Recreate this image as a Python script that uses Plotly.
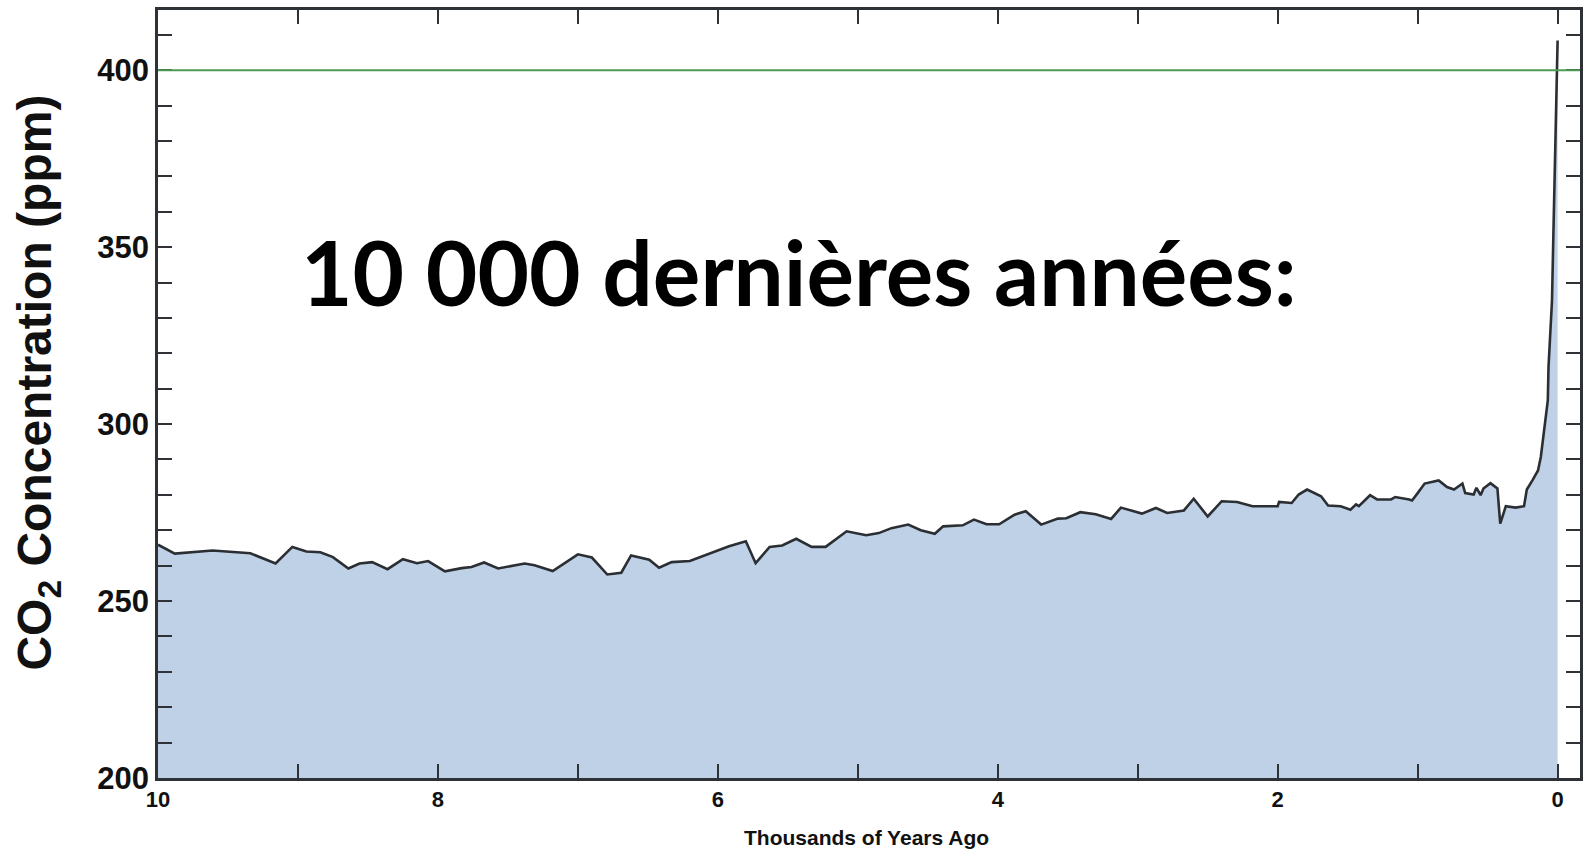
import plotly.graph_objects as go

# Data
years_ago_kyr = [10.00, 9.88, 9.61, 9.39, 9.34, 9.16, 9.04, 8.94, 8.84, 8.75, 8.64, 8.56, 8.47, 8.36,
                 8.25, 8.15, 8.07, 7.95, 7.83, 7.76, 7.67, 7.57, 7.48, 7.38, 7.31, 7.18, 7.00, 6.90,
                 6.79, 6.69, 6.62, 6.49, 6.42, 6.33, 6.20, 6.13, 6.04, 5.92, 5.80, 5.73, 5.63, 5.54,
                 5.44, 5.33, 5.23, 5.18, 5.08, 4.94, 4.85, 4.76, 4.64, 4.55, 4.45, 4.39, 4.25, 4.17,
                 4.08, 3.99, 3.88, 3.80, 3.69, 3.57, 3.51, 3.41, 3.30, 3.19, 3.12, 2.97, 2.87, 2.79,
                 2.67, 2.60, 2.50, 2.40, 2.29, 2.18, 2.00, 1.99, 1.90, 1.85, 1.79, 1.69, 1.64, 1.55,
                 1.48, 1.44, 1.42, 1.34, 1.29, 1.19, 1.16, 1.06, 1.04, 1.00, 0.95, 0.85, 0.79, 0.74,
                 0.68, 0.66, 0.60, 0.58, 0.55, 0.53, 0.48, 0.43, 0.41, 0.37, 0.30, 0.24, 0.22, 0.18,
                 0.14, 0.12, 0.10, 0.07, 0.065, 0.04, 0.03, 0.017, 0.006, 0.0]
co2_ppm = [265.9, 263.4, 264.3, 263.8, 263.5, 260.6, 265.3, 264.0, 263.8, 262.4, 259.2, 260.6, 261.0, 259.0,
           261.8, 260.7, 261.3, 258.4, 259.3, 259.6, 260.9, 259.2, 259.9, 260.6, 260.1, 258.5, 263.2, 262.3,
           257.5, 258.0, 262.9, 261.7, 259.4, 261.0, 261.3, 262.4, 263.6, 265.5, 266.9, 260.7, 265.3, 265.7,
           267.6, 265.3, 265.3, 266.7, 269.7, 268.6, 269.2, 270.6, 271.6, 270.0, 269.0, 271.1, 271.4, 273.0,
           271.7, 271.7, 274.4, 275.4, 271.6, 273.3, 273.4, 275.1, 274.5, 273.2, 276.4, 274.7, 276.3, 274.9,
           275.6, 278.9, 273.9, 278.2, 278.0, 276.8, 276.8, 278.0, 277.7, 280.1, 281.5, 279.6, 277.0, 276.8,
           275.8, 277.3, 276.8, 279.9, 278.7, 278.7, 279.4, 278.7, 278.4, 280.5, 283.2, 284.1, 282.2, 281.5,
           283.2, 280.5, 280.1, 282.0, 279.9, 281.8, 283.3, 281.8, 271.9, 276.8, 276.4, 276.8, 281.5, 284.1,
           286.9, 290.7, 297.3, 306.7, 316.1, 334.9, 353.9, 377.3, 400.8, 408.4]
reference_ppm = 400
x_major_ticks = [0, 2, 4, 6, 8, 10]
x_major_labels = ["<b>0</b>", "<b>2</b>", "<b>4</b>", "<b>6</b>", "<b>8</b>", "<b>10</b>"]
x_minor_ticks = [1, 3, 5, 7, 9]
y_major_ticks = [200, 250, 300, 350, 400]
y_major_labels = ["<b>200</b>", "<b>250</b>", "<b>300</b>", "<b>350</b>", "<b>400</b>"]
y_minor_ticks = [210, 220, 230, 240, 260, 270, 280, 290, 310, 320, 330, 340, 360, 370, 380, 390, 410]

AX = "#2e3236"
FONT = "Liberation Sans, Arial, sans-serif"

fig = go.Figure()
fig.add_trace(go.Scatter(
    x=years_ago_kyr, y=co2_ppm, mode="lines", fill="tozeroy",
    fillcolor="#bfd1e6", line=dict(color="#2b2f33", width=2.6), hoverinfo="skip",
))
fig.add_hline(y=reference_ppm, line=dict(color="#4e9c54", width=2))

fig.update_layout(
    width=1587, height=849,
    margin=dict(l=158, r=4, t=10, b=71),
    paper_bgcolor="white", plot_bgcolor="white",
    showlegend=False,
    font=dict(family=FONT, color="#111111"),
)
fig.update_xaxes(
    range=[10, -0.16], tickmode="array", tickvals=x_major_ticks, ticktext=x_major_labels,
    ticks="inside", ticklen=14, tickwidth=2, tickcolor=AX,
    minor=dict(tickmode="array", tickvals=x_minor_ticks, ticks="inside", ticklen=14, tickwidth=2,
               tickcolor=AX, showgrid=False),
    showline=True, linecolor=AX, linewidth=2.5, mirror="ticks",
    showgrid=False, zeroline=False,
    tickfont=dict(size=22, family=FONT, color="#111111"),
)
fig.update_yaxes(
    range=[200, 417], tickmode="array", tickvals=y_major_ticks, ticktext=y_major_labels,
    ticks="inside", ticklen=14, tickwidth=2, tickcolor=AX,
    minor=dict(tickmode="array", tickvals=y_minor_ticks, ticks="inside", ticklen=14, tickwidth=2,
               tickcolor=AX, showgrid=False),
    showline=True, linecolor=AX, linewidth=2.5, mirror="ticks",
    showgrid=False, zeroline=False,
    tickfont=dict(size=31, family=FONT, color="#111111"),
)

fig.add_annotation(
    text="<b>CO<sub>2</sub> Concentration (ppm)</b>", textangle=-90,
    xref="paper", yref="paper", x=-0.0843, y=0.515, xanchor="center", yanchor="middle",
    showarrow=False, font=dict(size=48, family=FONT, color="#111111"),
)
fig.add_annotation(
    text="<b>Thousands of Years Ago</b>",
    xref="paper", yref="paper", x=0.498, y=-0.078, xanchor="center", yanchor="middle",
    showarrow=False, font=dict(size=21, family=FONT, color="#111111"),
)
fig.add_annotation(
    text="<b>10 000 dernières années:</b>",
    xref="paper", yref="paper", x=0.451, y=0.66, xanchor="center", yanchor="middle",
    showarrow=False, font=dict(size=89, family="Lato, Carlito, sans-serif", color="#000000"),
)

fig.write_html(
    "out.html",
    config={"displayModeBar": False},
    post_script="document.body.style.margin='0';document.body.style.overflow='hidden';",
)
